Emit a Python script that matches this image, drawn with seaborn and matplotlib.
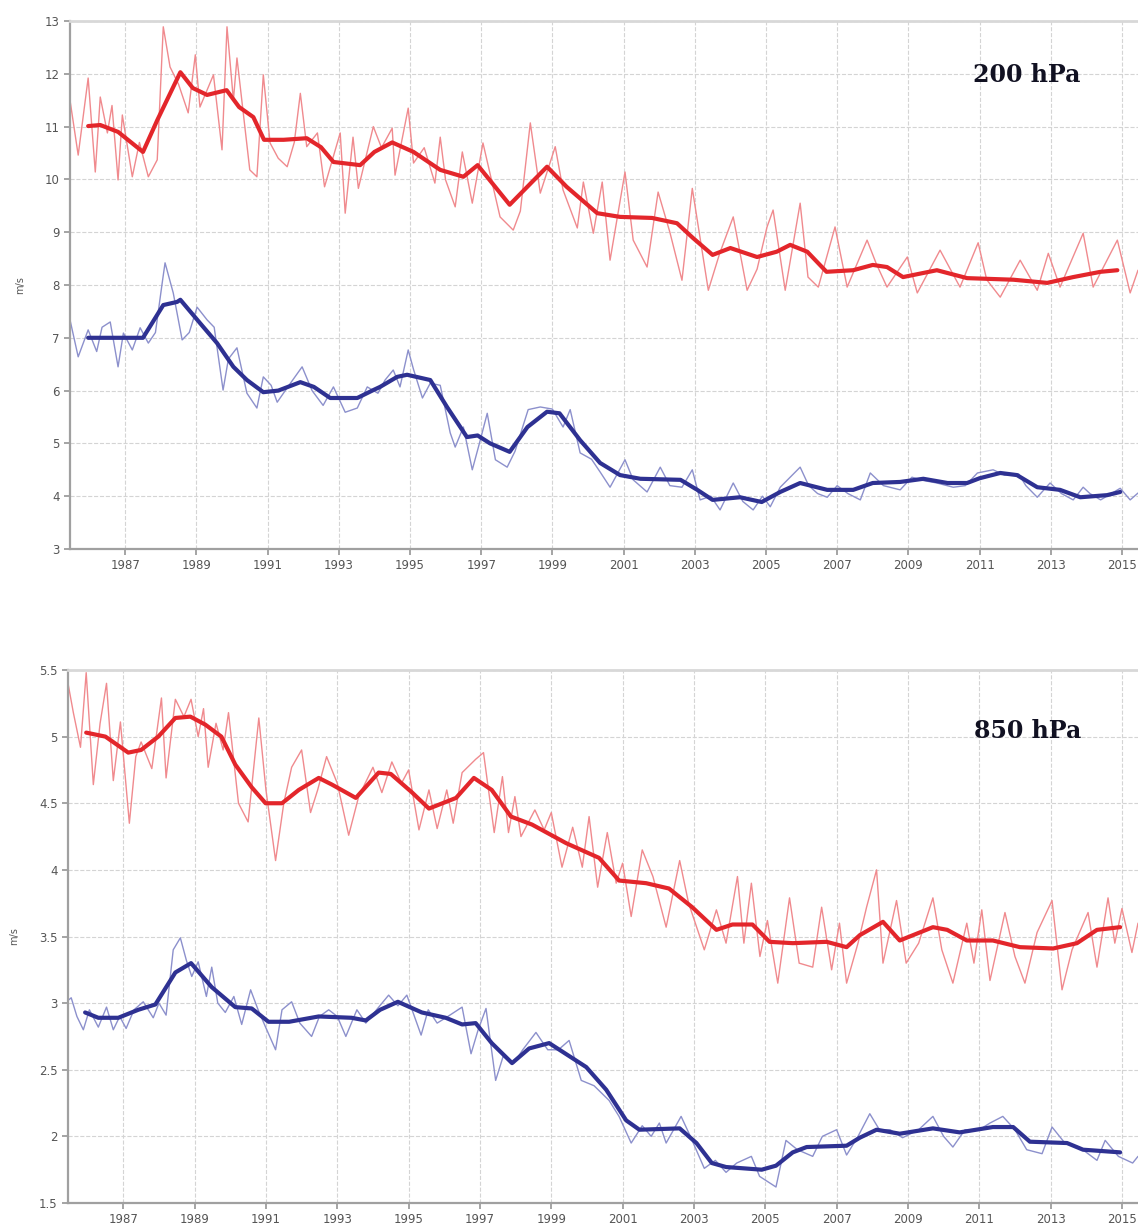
import matplotlib
matplotlib.use("Agg")
import matplotlib.pyplot as plt
from matplotlib.ticker import FormatStrFormatter, FuncFormatter
import seaborn as sns
import pandas as pd

# ---- 200 hPa panel ----
top_red_thin_yr = [1985.45, 1985.68, 1985.96, 1986.16, 1986.3, 1986.5, 1986.63, 1986.8, 1986.92, 1987.2,
                   1987.4, 1987.65, 1987.9, 1988.07, 1988.26, 1988.5, 1988.77, 1988.97, 1989.1, 1989.48,
                   1989.72, 1989.86, 1990.04, 1990.14, 1990.5, 1990.7, 1990.88, 1991.07, 1991.3, 1991.55,
                   1991.75, 1991.92, 1992.1, 1992.4, 1992.6, 1993.04, 1993.18, 1993.4, 1993.55, 1993.97,
                   1994.2, 1994.5, 1994.58, 1994.95, 1995.1, 1995.4, 1995.7, 1995.85, 1996.0, 1996.27,
                   1996.47, 1996.75, 1997.05, 1997.53, 1997.9, 1998.1, 1998.38, 1998.66, 1999.08, 1999.3,
                   1999.7, 1999.87, 2000.15, 2000.4, 2000.62, 2001.04, 2001.27, 2001.66, 2001.97, 2002.3,
                   2002.64, 2002.93, 2003.38, 2003.7, 2004.08, 2004.47, 2004.75, 2005.03, 2005.2, 2005.54,
                   2005.96, 2006.18, 2006.47, 2006.94, 2007.28, 2007.84, 2008.1, 2008.4, 2008.97, 2009.25,
                   2009.89, 2010.45, 2010.96, 2011.2, 2011.58, 2012.14, 2012.62, 2012.93, 2013.26, 2013.91,
                   2014.19, 2014.87, 2015.23, 2015.45]
top_red_thin = [11.5, 10.46, 11.92, 10.14, 11.56, 10.88, 11.4, 9.99, 11.22, 10.05,
                10.7, 10.05, 10.37, 12.89, 12.13, 11.8, 11.26, 12.36, 11.37, 11.98,
                10.56, 12.89, 11.5, 12.3, 10.18, 10.05, 11.98, 10.69, 10.4, 10.24,
                10.7, 11.63, 10.62, 10.88, 9.86, 10.88, 9.36, 10.8, 9.83, 11.0,
                10.6, 10.97, 10.08, 11.35, 10.31, 10.6, 9.93, 10.8, 9.99, 9.48,
                10.52, 9.55, 10.69, 9.29, 9.04, 9.4, 11.07, 9.74, 10.62, 9.8,
                9.08, 9.95, 8.98, 9.95, 8.47, 10.14, 8.85, 8.34, 9.76, 9.0,
                8.09, 9.83, 7.9, 8.6, 9.29, 7.9, 8.3, 9.1, 9.42, 7.9,
                9.55, 8.15, 7.96, 9.1, 7.96, 8.85, 8.4, 7.96, 8.53, 7.85,
                8.66, 7.96, 8.8, 8.1, 7.77, 8.47, 7.9, 8.6, 7.96, 8.98,
                7.96, 8.85, 7.85, 8.28]

top_red_smooth_yr = [1985.96, 1986.3, 1986.8, 1987.5, 1987.9, 1988.55, 1988.9, 1989.3, 1989.85, 1990.2,
                     1990.6, 1990.9, 1991.45, 1992.1, 1992.5, 1992.85, 1993.6, 1994.0, 1994.5, 1995.1,
                     1995.85, 1996.5, 1996.9, 1997.8, 1998.85, 1999.4, 2000.26, 2000.9, 2001.8, 2002.5,
                     2002.95, 2003.5, 2004.0, 2004.75, 2005.3, 2005.68, 2006.16, 2006.7, 2007.45, 2008.0,
                     2008.4, 2008.85, 2009.8, 2010.65, 2011.95, 2012.9, 2013.63, 2014.4, 2014.87]
top_red_smooth = [11.01, 11.03, 10.9, 10.52, 11.12, 12.03, 11.73, 11.6, 11.69, 11.37,
                  11.18, 10.75, 10.75, 10.78, 10.61, 10.33, 10.27, 10.52, 10.7, 10.52,
                  10.18, 10.05, 10.27, 9.52, 10.24, 9.86, 9.36, 9.29, 9.27, 9.17,
                  8.89, 8.57, 8.7, 8.53, 8.63, 8.76, 8.63, 8.25, 8.28, 8.38,
                  8.34, 8.15, 8.28, 8.13, 8.1, 8.04, 8.15, 8.25, 8.28]

top_blue_thin_yr = [1985.45, 1985.68, 1985.96, 1986.2, 1986.35, 1986.58, 1986.8, 1986.95, 1987.2, 1987.42,
                    1987.65, 1987.85, 1988.04, 1988.12, 1988.35, 1988.6, 1988.8, 1989.02, 1989.3, 1989.5,
                    1989.75, 1989.9, 1990.14, 1990.42, 1990.7, 1990.88, 1991.1, 1991.27, 1991.6, 1991.97,
                    1992.25, 1992.56, 1992.85, 1993.18, 1993.52, 1993.8, 1994.1, 1994.3, 1994.53, 1994.72,
                    1994.95, 1995.1, 1995.35, 1995.57, 1995.85, 1996.13, 1996.27, 1996.5, 1996.75, 1996.95,
                    1997.17, 1997.4, 1997.73, 1997.95, 1998.32, 1998.66, 1999.0, 1999.3, 1999.5, 1999.78,
                    2000.1, 2000.35, 2000.62, 2001.04, 2001.27, 2001.66, 2002.03, 2002.3, 2002.64, 2002.93,
                    2003.15, 2003.45, 2003.71, 2004.08, 2004.35, 2004.64, 2004.9, 2005.12, 2005.4, 2005.96,
                    2006.2, 2006.45, 2006.72, 2007.0, 2007.3, 2007.65, 2007.93, 2008.3, 2008.77, 2009.1,
                    2009.4, 2009.8, 2010.26, 2010.6, 2010.94, 2011.38, 2011.7, 2012.1, 2012.3, 2012.62,
                    2012.98, 2013.3, 2013.63, 2013.91, 2014.1, 2014.4, 2014.7, 2014.95, 2015.23, 2015.45]
top_blue_thin = [7.34, 6.64, 7.15, 6.74, 7.2, 7.3, 6.45, 7.09, 6.77, 7.19,
                 6.9, 7.1, 8.04, 8.42, 7.85, 6.96, 7.1, 7.58, 7.34, 7.2,
                 6.01, 6.6, 6.81, 5.95, 5.67, 6.26, 6.1, 5.78, 6.1, 6.45,
                 6.0, 5.72, 6.07, 5.59, 5.67, 6.07, 5.95, 6.2, 6.39, 6.07,
                 6.77, 6.4, 5.86, 6.14, 6.1, 5.2, 4.93, 5.31, 4.5, 5.0,
                 5.57, 4.69, 4.55, 4.85, 5.64, 5.69, 5.65, 5.31, 5.64, 4.82,
                 4.7, 4.45, 4.17, 4.69, 4.31, 4.08, 4.55, 4.2, 4.17, 4.5,
                 3.93, 4.0, 3.74, 4.25, 3.9, 3.74, 4.0, 3.8, 4.17, 4.55,
                 4.2, 4.05, 3.98, 4.2, 4.05, 3.93, 4.44, 4.2, 4.12, 4.36,
                 4.3, 4.25, 4.17, 4.2, 4.44, 4.5, 4.4, 4.42, 4.2, 3.98,
                 4.25, 4.05, 3.93, 4.17, 4.05, 3.93, 4.05, 4.15, 3.93, 4.06]

top_blue_smooth_yr = [1985.96, 1987.5, 1988.07, 1988.46, 1988.55, 1989.1, 1989.58, 1990.04, 1990.42, 1990.88,
                      1991.3, 1991.92, 1992.3, 1992.76, 1993.52, 1993.97, 1994.16, 1994.64, 1994.92, 1995.57,
                      1996.04, 1996.6, 1996.9, 1997.25, 1997.8, 1998.3, 1998.85, 1999.2, 1999.78, 2000.34,
                      2000.9, 2001.47, 2002.6, 2003.07, 2003.5, 2004.27, 2004.88, 2005.4, 2005.96, 2006.72,
                      2007.45, 2008.0, 2008.77, 2009.42, 2010.1, 2010.65, 2011.0, 2011.58, 2012.05, 2012.62,
                      2013.26, 2013.83, 2014.58, 2014.95]
top_blue_smooth = [7.0, 7.0, 7.62, 7.68, 7.72, 7.28, 6.9, 6.45, 6.2, 5.97,
                   6.0, 6.16, 6.07, 5.86, 5.86, 6.01, 6.07, 6.26, 6.3, 6.2,
                   5.69, 5.12, 5.15, 5.0, 4.84, 5.31, 5.6, 5.57, 5.06, 4.63,
                   4.4, 4.33, 4.31, 4.12, 3.93, 3.98, 3.89, 4.08, 4.25, 4.12,
                   4.12, 4.25, 4.27, 4.33, 4.25, 4.25, 4.34, 4.44, 4.4, 4.17,
                   4.12, 3.98, 4.02, 4.08]

# ---- 850 hPa panel ----
bot_red_thin_yr = [1985.45, 1985.6, 1985.8, 1985.96, 1986.16, 1986.35, 1986.53, 1986.72, 1986.92, 1987.17,
                   1987.35, 1987.5, 1987.8, 1988.07, 1988.2, 1988.46, 1988.7, 1988.9, 1989.1, 1989.25,
                   1989.38, 1989.6, 1989.8, 1989.95, 1990.23, 1990.5, 1990.8, 1991.0, 1991.27, 1991.5,
                   1991.72, 1992.0, 1992.25, 1992.45, 1992.7, 1993.0, 1993.32, 1993.6, 1994.0, 1994.25,
                   1994.53, 1994.8, 1995.0, 1995.29, 1995.57, 1995.8, 1996.07, 1996.25, 1996.5, 1996.88,
                   1997.1, 1997.4, 1997.63, 1997.8, 1997.98, 1998.15, 1998.54, 1998.8, 1999.0, 1999.3,
                   1999.6, 1999.87, 2000.06, 2000.3, 2000.57, 2000.82, 2001.0, 2001.24, 2001.55, 2001.85,
                   2002.22, 2002.6, 2002.85, 2003.29, 2003.63, 2003.9, 2004.22, 2004.4, 2004.61, 2004.85,
                   2005.06, 2005.35, 2005.68, 2005.95, 2006.33, 2006.58, 2006.86, 2007.08, 2007.28, 2007.6,
                   2007.84, 2008.12, 2008.3, 2008.68, 2008.95, 2009.3, 2009.7, 2009.95, 2010.26, 2010.65,
                   2010.85, 2011.07, 2011.3, 2011.72, 2012.0, 2012.28, 2012.62, 2013.04, 2013.32, 2013.6,
                   2014.05, 2014.3, 2014.61, 2014.8, 2015.0, 2015.28, 2015.45]
bot_red_thin = [5.4, 5.18, 4.92, 5.48, 4.64, 5.1, 5.4, 4.67, 5.11, 4.35,
                4.85, 4.96, 4.76, 5.29, 4.69, 5.28, 5.15, 5.28, 5.0, 5.21,
                4.77, 5.1, 4.9, 5.18, 4.5, 4.36, 5.14, 4.6, 4.07, 4.5,
                4.77, 4.9, 4.43, 4.6, 4.85, 4.65, 4.26, 4.55, 4.77, 4.58,
                4.81, 4.65, 4.75, 4.3, 4.6, 4.31, 4.6, 4.35, 4.73, 4.83,
                4.88, 4.28, 4.7, 4.28, 4.55, 4.25, 4.45, 4.3, 4.43, 4.02,
                4.32, 4.02, 4.4, 3.87, 4.28, 3.9, 4.05, 3.65, 4.15, 3.95,
                3.57, 4.07, 3.75, 3.4, 3.7, 3.45, 3.95, 3.45, 3.9, 3.35,
                3.62, 3.15, 3.79, 3.3, 3.27, 3.72, 3.25, 3.6, 3.15, 3.45,
                3.72, 4.0, 3.3, 3.77, 3.3, 3.45, 3.79, 3.4, 3.15, 3.6,
                3.3, 3.7, 3.17, 3.68, 3.35, 3.15, 3.53, 3.77, 3.1, 3.4,
                3.68, 3.27, 3.79, 3.45, 3.71, 3.38, 3.6]

bot_red_smooth_yr = [1985.96, 1986.5, 1987.14, 1987.5, 1987.98, 1988.46, 1988.88, 1989.3, 1989.75, 1990.14,
                     1990.6, 1990.99, 1991.45, 1991.92, 1992.48, 1992.85, 1993.52, 1994.16, 1994.5, 1995.1,
                     1995.57, 1996.33, 1996.83, 1997.33, 1997.87, 1998.46, 1999.42, 2000.34, 2000.9, 2001.66,
                     2002.3, 2002.95, 2003.63, 2004.08, 2004.64, 2005.12, 2005.77, 2006.72, 2007.28, 2007.65,
                     2008.3, 2008.77, 2009.7, 2010.1, 2010.65, 2011.38, 2012.14, 2013.07, 2013.74, 2014.3,
                     2014.95]
bot_red_smooth = [5.03, 5.0, 4.88, 4.9, 5.0, 5.14, 5.15, 5.09, 5.0, 4.79,
                  4.62, 4.5, 4.5, 4.6, 4.69, 4.64, 4.54, 4.73, 4.72, 4.58,
                  4.46, 4.54, 4.69, 4.6, 4.4, 4.34, 4.2, 4.09, 3.92, 3.9,
                  3.86, 3.72, 3.55, 3.59, 3.59, 3.46, 3.45, 3.46, 3.42, 3.51,
                  3.61, 3.47, 3.57, 3.55, 3.47, 3.47, 3.42, 3.41, 3.45, 3.55,
                  3.57]

bot_blue_thin_yr = [1985.45, 1985.54, 1985.7, 1985.88, 1986.05, 1986.3, 1986.53, 1986.72, 1986.9, 1987.08,
                    1987.3, 1987.56, 1987.84, 1988.0, 1988.2, 1988.4, 1988.6, 1988.77, 1988.92, 1989.1,
                    1989.33, 1989.48, 1989.65, 1989.86, 1990.1, 1990.32, 1990.57, 1990.78, 1990.99, 1991.27,
                    1991.45, 1991.72, 1991.95, 1992.28, 1992.5, 1992.76, 1993.0, 1993.24, 1993.55, 1993.8,
                    1994.1, 1994.44, 1994.7, 1994.95, 1995.35, 1995.55, 1995.8, 1996.1, 1996.5, 1996.75,
                    1996.95, 1997.17, 1997.44, 1997.65, 1997.95, 1998.2, 1998.57, 1998.9, 1999.2, 1999.5,
                    1999.84, 2000.2, 2000.62, 2000.9, 2001.24, 2001.55, 2001.8, 2002.03, 2002.22, 2002.64,
                    2002.9, 2003.29, 2003.6, 2003.9, 2004.2, 2004.61, 2004.84, 2005.3, 2005.58, 2005.9,
                    2006.33, 2006.6, 2007.0, 2007.28, 2007.6, 2007.93, 2008.2, 2008.5, 2008.85, 2009.3,
                    2009.7, 2010.0, 2010.26, 2010.6, 2011.0, 2011.3, 2011.66, 2012.0, 2012.33, 2012.76,
                    2013.04, 2013.4, 2013.8, 2014.3, 2014.53, 2014.9, 2015.3, 2015.45]
bot_blue_thin = [3.02, 3.04, 2.9, 2.8, 2.95, 2.82, 2.97, 2.8, 2.9, 2.81,
                 2.95, 3.01, 2.89, 3.0, 2.91, 3.4, 3.49, 3.32, 3.2, 3.31,
                 3.05, 3.27, 3.0, 2.93, 3.05, 2.84, 3.1, 2.95, 2.82, 2.65,
                 2.95, 3.01, 2.85, 2.75, 2.9, 2.95, 2.9, 2.75, 2.95, 2.85,
                 2.95, 3.06, 2.98, 3.06, 2.76, 2.95, 2.85, 2.9, 2.97, 2.62,
                 2.8, 2.96, 2.42, 2.6, 2.55, 2.65, 2.78, 2.65, 2.65, 2.72,
                 2.42, 2.38, 2.27, 2.15, 1.95, 2.08, 2.0, 2.1, 1.95, 2.15,
                 2.0, 1.76, 1.82, 1.73, 1.8, 1.85, 1.7, 1.62, 1.97, 1.9,
                 1.85, 2.0, 2.05, 1.86, 2.0, 2.17, 2.05, 2.05, 1.99, 2.05,
                 2.15, 2.0, 1.92, 2.05, 2.05, 2.1, 2.15, 2.05, 1.9, 1.87,
                 2.07, 1.95, 1.92, 1.82, 1.97, 1.85, 1.8, 1.85]

bot_blue_smooth_yr = [1985.93, 1986.3, 1986.86, 1987.42, 1987.9, 1988.46, 1988.9, 1989.48, 1990.14, 1990.6,
                      1991.07, 1991.65, 1992.48, 1993.4, 1993.8, 1994.2, 1994.7, 1995.37, 1996.04, 1996.5,
                      1996.88, 1997.33, 1997.9, 1998.38, 1998.94, 1999.98, 2000.54, 2001.1, 2001.47, 2002.6,
                      2003.07, 2003.5, 2003.9, 2004.9, 2005.3, 2005.77, 2006.16, 2007.28, 2007.65, 2008.12,
                      2008.77, 2009.7, 2010.45, 2011.38, 2011.95, 2012.42, 2013.46, 2013.91, 2014.95]
bot_blue_smooth = [2.93, 2.89, 2.89, 2.95, 2.99, 3.23, 3.3, 3.12, 2.97, 2.96,
                   2.86, 2.86, 2.9, 2.89, 2.87, 2.95, 3.01, 2.93, 2.89, 2.84,
                   2.85, 2.7, 2.55, 2.66, 2.7, 2.52, 2.35, 2.12, 2.05, 2.06,
                   1.95, 1.8, 1.77, 1.75, 1.78, 1.88, 1.92, 1.93, 1.99, 2.05,
                   2.02, 2.06, 2.03, 2.07, 2.07, 1.96, 1.95, 1.9, 1.88]

year_ticks = list(range(1987, 2016, 2))

RED, RED_THIN = "#e3262b", "#f08a8e"
BLUE, BLUE_THIN = "#2e3192", "#8c90cc"

sns.set_theme(style="white")
plt.rcParams["font.family"] = ["DejaVu Sans"]

fig = plt.figure(figsize=(11.38, 12.29), dpi=100)
ax1 = fig.add_axes([70 / 1138, 1 - 549 / 1229, 1068 / 1138, 528 / 1229])
ax2 = fig.add_axes([68 / 1138, 1 - 1203 / 1229, 1070 / 1138, 533 / 1229])


def draw(ax, rthin_x, rthin, rsm_x, rsm, bthin_x, bthin, bsm_x, bsm):
    sns.lineplot(x=rthin_x, y=rthin, ax=ax, color=RED_THIN, lw=1.0, estimator=None)
    sns.lineplot(x=bthin_x, y=bthin, ax=ax, color=BLUE_THIN, lw=1.0, estimator=None)
    sns.lineplot(x=rsm_x, y=rsm, ax=ax, color=RED, lw=3.0, estimator=None)
    sns.lineplot(x=bsm_x, y=bsm, ax=ax, color=BLUE, lw=3.0, estimator=None)
    ax.set_xlim(1985.45, 2015.45)
    ax.set_xticks(year_ticks)
    ax.set_xticklabels([str(y) for y in year_ticks])
    ax.grid(True, color="#d4d4d4", ls="--", lw=0.8)
    ax.set_axisbelow(True)
    ax.tick_params(axis="both", labelsize=8.5, labelcolor="#555555", length=4,
                   color="#999999", direction="out", bottom=True, left=True)
    for s in ["left", "bottom"]:
        ax.spines[s].set_color("#a0a0a0")
        ax.spines[s].set_linewidth(1.6)
    ax.spines["top"].set_color("#d8d8d8")
    ax.spines["top"].set_linewidth(2.0)
    ax.spines["right"].set_visible(False)
    ax.set_ylabel("m/s", fontsize=7, color="#555555", labelpad=14)
    ax.set_xlabel("")


draw(ax1, top_red_thin_yr, top_red_thin, top_red_smooth_yr, top_red_smooth,
     top_blue_thin_yr, top_blue_thin, top_blue_smooth_yr, top_blue_smooth)
ax1.set_ylim(3, 13)
ax1.set_yticks(range(3, 14))

draw(ax2, bot_red_thin_yr, bot_red_thin, bot_red_smooth_yr, bot_red_smooth,
     bot_blue_thin_yr, bot_blue_thin, bot_blue_smooth_yr, bot_blue_smooth)
ax2.set_ylim(1.5, 5.5)
ax2.set_yticks([1.5, 2, 2.5, 3, 3.5, 4, 4.5, 5, 5.5])
ax2.yaxis.set_major_formatter(FuncFormatter(lambda v, p: f"{v:g}"))

ax1.text(0.896, 0.898, "200 hPa", transform=ax1.transAxes, ha="center", va="center",
         fontsize=17, fontweight="bold", family="DejaVu Serif", color="#111122")
ax2.text(0.897, 0.886, "850 hPa", transform=ax2.transAxes, ha="center", va="center",
         fontsize=17, fontweight="bold", family="DejaVu Serif", color="#111122")

fig.savefig("out.png", dpi=100)
